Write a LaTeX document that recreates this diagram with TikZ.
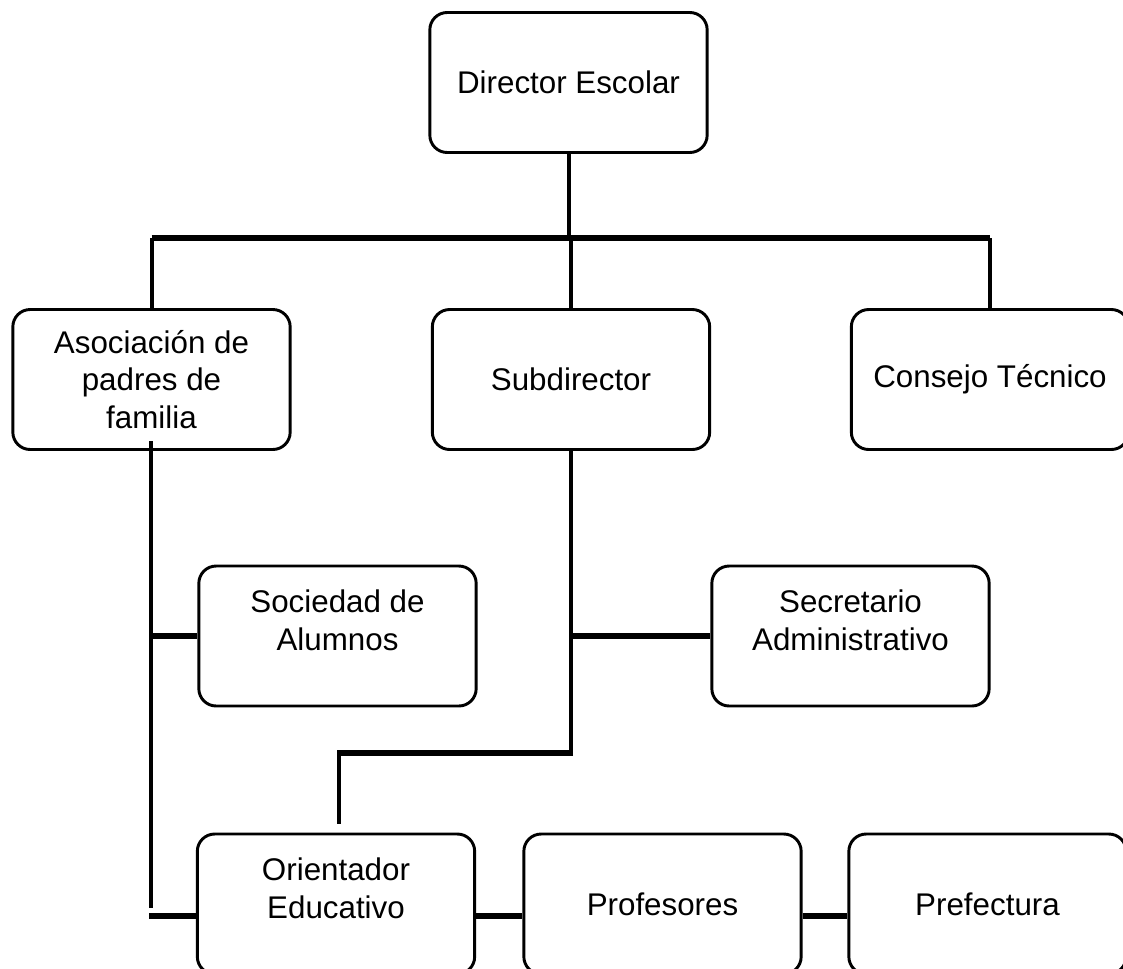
\documentclass[tikz,border=0pt]{standalone}
\usepackage{fontspec}
\setmainfont{Liberation Sans}
\begin{document}
\begin{tikzpicture}[x=0.75pt,y=-0.75pt,
  box/.style={draw, line width=2.2pt, rounded corners=13pt, minimum width=208pt, minimum height=105pt, inner sep=0pt, align=center, font=\fontsize{23.5pt}{28pt}\selectfont},
  vline/.style={line width=3pt},
  hline/.style={line width=4.5pt}]
\useasboundingbox (0,0) rectangle (1123,968);
\clip (0,0) rectangle (1123,968);
\node[box] (dir) at (568.5,82.5) {\raisebox{-4pt}{Director Escolar}};
\node[box] (aso) at (151.5,379.5) {Asociación de\\padres de\\familia};
\node[box] (sub) at (571,379.5) {\raisebox{-3pt}{Subdirector}};
\node[box] (cons) at (990,379.5) {\raisebox{-3pt}{Consejo Técnico}};
\node[box] (soc) at (337.5,636) {Sociedad de\\Alumnos\\[-4pt]\mbox{}};
\node[box] (sec) at (850.5,636) {Secretario\\Administrativo\\[-4pt]\mbox{}};
\node[box] (ori) at (336,904) {Orientador\\Educativo\\[-4pt]\mbox{}};
\node[box] (pro) at (662.5,904) {\raisebox{-1pt}{Profesores}};
\node[box] (pre) at (987.5,904) {\raisebox{-1pt}{Prefectura}};
\coordinate (bar) at (571,238);
\coordinate (lvtop) at (151,441);
\coordinate (lvbot) at (151,908);
\coordinate (stepR) at (571,753);
\coordinate (stepL) at (339,753);
\coordinate (stepB) at (339,824);
\coordinate (stub) at (149,916);
% top tree
\draw[vline] (dir.south) -- (dir.south |- bar);
\draw[hline] (aso.north |- bar) -- (cons.north |- bar);
\draw[vline] (aso.north |- bar) -- (aso.north);
\draw[vline] (sub.north |- bar) -- (sub.north);
\draw[vline] (cons.north |- bar) -- (cons.north);
% left branch
\draw[vline] (lvtop) -- (lvbot);
\draw[hline] (soc.west -| lvtop) -- (soc.west);
% subdirector branch
\draw[vline] (sub.south) -- (stepR);
\draw[hline] (sec.west -| stepR) -- (sec.west);
\draw[hline] ([xshift=1.5pt]stepR) -- ([xshift=-1.5pt]stepL);
\draw[vline] ([yshift=1.5pt]stepL) -- (stepB);
% bottom row
\draw[hline] (stub) -- (stub -| ori.west);
\draw[hline] ([yshift=-9pt]ori.east) -- ([yshift=-9pt]pro.west);
\draw[hline] ([yshift=-9pt]pro.east) -- ([yshift=-9pt]pre.west);
\end{tikzpicture}
\end{document}
